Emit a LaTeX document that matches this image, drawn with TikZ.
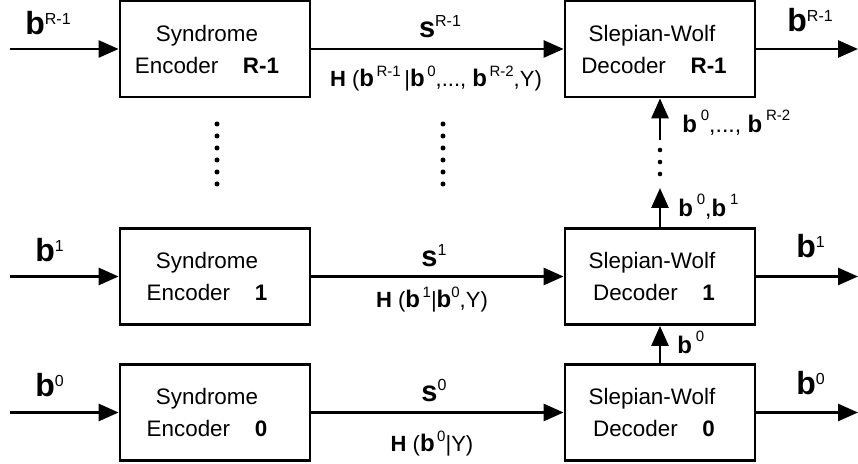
\documentclass[tikz,border=0pt]{standalone}
\usepackage{fontspec}
\setmainfont{Liberation Sans}
\usetikzlibrary{arrows.meta}
\newcommand{\supx}[3]{\raisebox{#1}{\fontsize{#2}{#2}\selectfont #3}}
\newcommand{\bb}[1]{\textbf{b}\supx{5pt}{8}{#1}}
\newcommand{\hb}[1]{{\fontsize{12}{12}\selectfont\textbf{b}}\supx{5pt}{7.5}{#1}}
\newcommand{\vb}[1]{{\fontsize{12}{12}\selectfont\textbf{b}}\,\supx{6pt}{7.5}{#1}}

\begin{document}
\begin{tikzpicture}[x=0.5pt,y=-0.5pt,
  block/.style={draw,line width=1.4pt,minimum width=95pt,minimum height=48pt,
    inner sep=0pt,align=center,font=\fontsize{11.2}{16}\selectfont},
  sig/.style={line width=1.4pt,-{Triangle[length=10pt,width=8.5pt]}},
  bigb/.style={anchor=base west,inner sep=0pt,font=\fontsize{16}{16}\selectfont},
  sym/.style={anchor=base,inner sep=0pt,font=\fontsize{14.5}{14.5}\selectfont},
  rate/.style={anchor=base,inner sep=0pt,font=\fontsize{11}{11}\selectfont},
  side/.style={anchor=base west,inner sep=0pt,font=\fontsize{11.5}{11.5}\selectfont}]
\useasboundingbox (0,0) rectangle (858,464);

% one row per layer: encoder, decoder and the three signal lines
\foreach \name/\idx/\ypos in {0/0/412.5,1/1/276.5,R/R-1/49}
{ \node[block] (enc\name) at (215,\ypos)
    {Syndrome\hspace*{8pt}\\Encoder\hspace{1.1em}\textbf{\idx}\hspace*{8pt}};
  \node[block] (dec\name) at (660,\ypos)
    {Slepian-Wolf\hspace*{8pt}\\Decoder\hspace{1.1em}\textbf{\idx}\hspace*{6pt}};
  \coordinate (in\name) at (10,\ypos);
  \coordinate (out\name) at (858,\ypos);
  \draw[sig] (in\name) -- (enc\name);
  \draw[sig] (enc\name) -- (dec\name);
  \draw[sig] (dec\name) -- (out\name);
}

% side information passed upwards
\coordinate (upA) at (660,188);
\coordinate (upB) at (660,140);
\draw[sig] (dec0) -- (dec1);
\draw[sig] (dec1) -- (upA);
\draw[sig] (upB) -- (decR);
\foreach \y in {150,162,174}
  \fill (660,\y) circle (2.3);
\foreach \x in {217,443}
  \foreach \y in {124,136,...,184}
    \fill (\x,\y) circle (2.5);

% labels
\node[bigb] (binR) at (25,35) {\bb{R-1}};
\node[bigb] (bin1) at (35,262) {\bb{1}};
\node[bigb] (bin0) at (35,397) {\bb{0}};
\node[bigb] (boutR) at (787,32) {\bb{R-1}};
\node[bigb] (bout1) at (796,258) {\bb{1}};
\node[bigb] (bout0) at (796,395) {\bb{0}};

\node[sym] (sR) at (440,38) {\textbf{s}\supx{5.5pt}{8}{R-1}};
\node[sym] (s1) at (434,267) {\textbf{s}\supx{5.5pt}{8}{1}};
\node[sym] (s0) at (434,402) {\textbf{s}\supx{5.5pt}{8}{0}};

\node[rate] (hR) at (436,87) {\textbf{H} (\hb{\,R-1}\,|\hb{\,0},..., \hb{\,R-2},Y)};
\node[rate] (h1) at (432,308) {\textbf{H} (\hb{\,1}|\hb{0},Y)};
\node[rate] (h0) at (432,452) {\textbf{H} (\hb{\,0}|Y)};

\node[side] (vR) at (682,133) {\vb{0},..., \vb{R-2}};
\node[side] (v1) at (678,217) {\vb{0},\vb{1}};
\node[side] (v0) at (677,354) {\vb{0}};
\end{tikzpicture}
\end{document}
